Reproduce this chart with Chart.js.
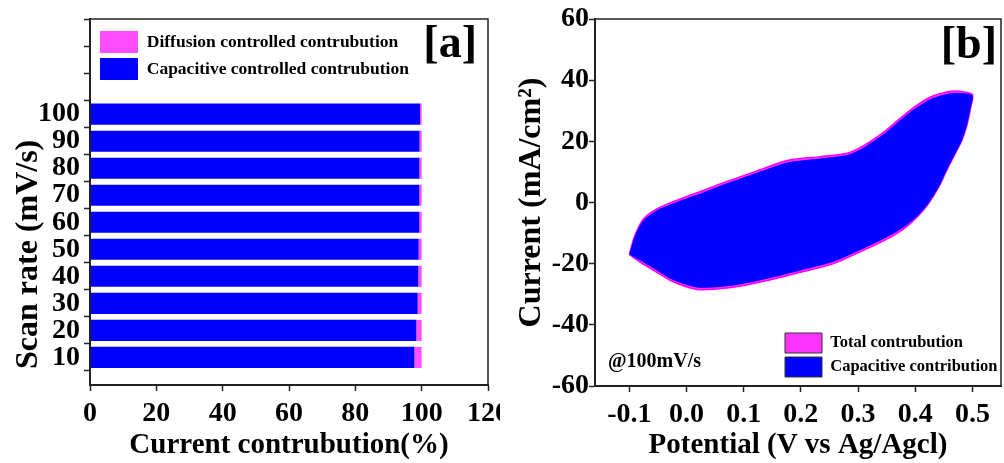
<!DOCTYPE html>
<html>
<head>
<meta charset="utf-8">
<script src="https://cdn.jsdelivr.net/npm/chart.js@4/dist/chart.umd.min.js"></script>
<style>
  html, body { margin: 0; padding: 0; background: #fff; }
  #wrap { position: relative; width: 1004px; height: 463px; }
  #chartA { position: absolute; left: 0; top: 0; }
  #chartB { position: absolute; left: 500px; top: 0; }
</style>
</head>
<body>
<div id="wrap">
  <canvas id="chartA" width="500" height="463"></canvas>
  <canvas id="chartB" width="504" height="463"></canvas>
</div>
<script>
// panel [a] - contribution per scan rate
const scanRates = [10, 20, 30, 40, 50, 60, 70, 80, 90, 100];
const capacitivePct = [97.8, 98.4, 98.8, 99.0, 99.1, 99.3, 99.3, 99.3, 99.35, 99.5];
const diffusionPct = [2.2, 1.6, 1.2, 1.0, 0.9, 0.7, 0.7, 0.7, 0.65, 0.5];
const rateTicks = [10, 20, 30, 40, 50, 60, 70, 80, 90, 100, 110, 120, 130];
const pctTicks = [0, 20, 40, 60, 80, 100, 120];

// panel [b] - CV loop at 100 mV/s (forward branch, then return branch)
const potential = [-0.1, -0.0925, -0.084, -0.075, -0.063, -0.046, -0.011, 0.029, 0.059, 0.117, 0.176, 0.234, 0.281, 0.31, 0.345, 0.368, 0.397, 0.426, 0.455, 0.476, 0.5,
                   0.497, 0.49, 0.481, 0.47, 0.455, 0.441, 0.423, 0.403, 0.38, 0.351, 0.316, 0.257, 0.199, 0.141, 0.082, 0.024, 0.001, -0.028, -0.0575, -0.081, -0.1];
const totalCurrent = [-17.0, -11.9, -8.1, -5.3, -3.4, -1.5, 1.2, 3.9, 6.1, 9.9, 13.7, 15.0, 16.1, 18.6, 23.0, 26.6, 31.0, 34.4, 36.1, 36.4, 35.3,
                      31.0, 25.0, 20.0, 16.0, 10.5, 5.0, -0.4, -4.8, -8.6, -11.9, -15.1, -20.0, -22.8, -25.5, -27.7, -28.5, -27.6, -25.5, -22.2, -19.5, -17.0];
const capCurrent = [-17.0, -12.1, -8.4, -5.7, -3.9, -2.0, 0.6, 3.3, 5.5, 9.3, 13.1, 14.4, 15.5, 18.0, 22.4, 26.0, 30.4, 33.8, 35.5, 35.8, 35.0,
                    31.0, 25.0, 20.0, 16.0, 10.5, 5.0, -0.3, -4.6, -8.1, -11.3, -14.5, -19.4, -22.2, -24.9, -27.1, -27.9, -27.0, -24.9, -21.6, -19.0, -17.0];
const potentialTicks = [-0.1, 0.0, 0.1, 0.2, 0.3, 0.4, 0.5];
const currentTicks = [-60, -40, -20, 0, 20, 40, 60];

const serif = "'Liberation Serif', 'Times New Roman', serif";
Chart.defaults.font.family = serif;
Chart.defaults.font.weight = 'bold';
Chart.defaults.color = '#000';

// box around the plot area
const frame = {
  id: 'frame',
  afterDatasetsDraw(chart) {
    const { ctx, chartArea: a } = chart;
    ctx.save();
    ctx.strokeStyle = '#222';
    ctx.lineWidth = 1.5;
    ctx.strokeRect(a.left, a.top, a.right - a.left, a.bottom - a.top);
    ctx.restore();
  }
};

// move the in-plot legend to a spot inside the chart area
const legendSpot = {
  id: 'legendSpot',
  afterLayout(chart, args, opts) {
    const lg = chart.legend;
    if (!lg) return;
    const pad = lg.options.labels.padding;
    const a = chart.chartArea;
    lg.left = a.left + opts.dx - pad;
    lg.right = a.right;
    lg.top = a.top + opts.dy - pad;
    lg.bottom = a.bottom + 40;
  }
};

// panel letters and notes
const panelText = {
  id: 'panelText',
  afterDraw(chart, args, opts) {
    const { ctx, chartArea: a } = chart;
    ctx.save();
    ctx.fillStyle = '#000';
    ctx.textBaseline = 'middle';
    for (const t of opts.items || []) {
      ctx.font = t.font;
      ctx.textAlign = t.align;
      ctx.fillText(t.text, t.fromRight ? a.right - t.dx : a.left + t.dx, a.top + t.dy);
    }
    ctx.restore();
  }
};

function axisStyle() {
  return {
    grid: { drawOnChartArea: false, drawTicks: true, tickLength: 6, tickWidth: 1.5, tickColor: '#222' },
    border: { display: true, color: '#222', width: 2 }
  };
}

new Chart(document.getElementById('chartA').getContext('2d'), {
  type: 'bar',
  data: {
    datasets: [
      {
        label: 'Capacitive controlled contrubution',
        data: scanRates.map((r, i) => ({ x: capacitivePct[i], y: r })),
        backgroundColor: '#0000FF',
        borderWidth: 0
      },
      {
        label: 'Diffusion controlled contrubution',
        data: scanRates.map((r, i) => ({ x: diffusionPct[i], y: r })),
        backgroundColor: '#FF4DFF',
        borderWidth: 0
      }
    ]
  },
  options: {
    indexAxis: 'y',
    responsive: false,
    animation: false,
    devicePixelRatio: 1,
    events: [],
    barPercentage: 0.78,
    categoryPercentage: 1,
    layout: { padding: { left: 0, top: 19, right: 12, bottom: 0 } },
    scales: {
      x: {
        type: 'linear',
        stacked: true,
        min: 0,
        max: 120,
        ...axisStyle(),
        afterBuildTicks: (s) => { s.ticks = pctTicks.map(v => ({ value: v })); },
        afterFit: (s) => { s.height = 78; s.paddingLeft = 0; s.paddingRight = 0; },
        ticks: { font: { size: 28, weight: 'bold' }, padding: 6, maxRotation: 0, autoSkip: false },
        title: { display: true, text: 'Current contrubution(%)', font: { size: 29, weight: 'bold' }, padding: { top: 0, bottom: 0 } }
      },
      y: {
        type: 'linear',
        stacked: true,
        min: 5,
        max: 130,
        ...axisStyle(),
        afterBuildTicks: (s) => { s.ticks = rateTicks.map(v => ({ value: v })); },
        afterFit: (s) => { s.width = 90; s.paddingTop = 0; s.paddingBottom = 0; },
        ticks: { font: { size: 28, weight: 'bold' }, padding: 4, autoSkip: false, callback: (v) => v <= 100 ? v : '' },
        title: { display: true, align: 'start', text: '\u2002Scan rate (mV/s)', font: { size: 32, weight: 'bold' }, padding: { top: 10, bottom: 0 } }
      }
    },
    plugins: {
      tooltip: { enabled: false },
      legend: {
        position: 'chartArea',
        align: 'start',
        reverse: true,
        labels: { boxWidth: 38, boxHeight: 22, padding: 5, color: '#000', font: { size: 17.5, weight: 'bold' } }
      },
      legendSpot: { dx: 10, dy: 12 },
      panelText: { items: [ { text: '[a]', font: 'bold 46px ' + serif, align: 'right', fromRight: true, dx: 11, dy: 26 } ] }
    }
  },
  plugins: [frame, legendSpot, panelText]
});

new Chart(document.getElementById('chartB').getContext('2d'), {
  type: 'scatter',
  data: {
    datasets: [
      {
        label: 'Total contrubution',
        data: potential.map((v, i) => ({ x: v, y: totalCurrent[i] })),
        showLine: true,
        fill: 'shape',
        backgroundColor: '#FF33FF',
        borderColor: '#FF00FF',
        borderWidth: 1.5,
        pointRadius: 0,
        tension: 0.25,
        order: 1
      },
      {
        label: 'Capacitive contribution',
        data: potential.map((v, i) => ({ x: v, y: capCurrent[i] })),
        showLine: true,
        fill: 'shape',
        backgroundColor: '#0000FF',
        borderColor: '#0000FF',
        borderWidth: 0,
        pointRadius: 0,
        tension: 0.25,
        order: 0
      }
    ]
  },
  options: {
    responsive: false,
    animation: false,
    devicePixelRatio: 1,
    events: [],
    layout: { padding: { left: 0, top: 19, right: 3, bottom: 0 } },
    scales: {
      x: {
        type: 'linear',
        min: -0.16,
        max: 0.55,
        ...axisStyle(),
        afterBuildTicks: (s) => { s.ticks = potentialTicks.map(v => ({ value: v })); },
        afterFit: (s) => { s.height = 77; s.paddingLeft = 0; s.paddingRight = 0; },
        ticks: { font: { size: 28, weight: 'bold' }, padding: 6, maxRotation: 0, autoSkip: false, callback: (v) => v.toFixed(1) },
        title: { display: true, text: 'Potential (V vs Ag/Agcl)', font: { size: 29, weight: 'bold' }, padding: { top: 0, bottom: 0 } }
      },
      y: {
        type: 'linear',
        min: -60,
        max: 60,
        ...axisStyle(),
        afterBuildTicks: (s) => { s.ticks = currentTicks.map(v => ({ value: v })); },
        afterFit: (s) => { s.width = 95; s.paddingTop = 0; s.paddingBottom = 0; },
        ticks: { font: { size: 28, weight: 'bold' }, padding: 0, autoSkip: false },
        title: { display: true, text: 'Current (mA/cm\u00B2)', font: { size: 32, weight: 'bold' }, padding: { top: 13, bottom: 0 } }
      }
    },
    plugins: {
      tooltip: { enabled: false },
      legend: {
        position: 'chartArea',
        align: 'start',
        labels: {
          boxWidth: 37, boxHeight: 20, padding: 4, color: '#000', font: { size: 16.5, weight: 'bold' },
          generateLabels: (chart) => Chart.defaults.plugins.legend.labels.generateLabels(chart)
            .sort((a, b) => a.datasetIndex - b.datasetIndex)
            .map(it => Object.assign(it, { strokeStyle: '#333', lineWidth: 1 }))
        }
      },
      legendSpot: { dx: 190, dy: 314 },
      panelText: {
        items: [
          { text: '[b]', font: 'bold 46px ' + serif, align: 'right', fromRight: true, dx: 4, dy: 27 },
          { text: '@100mV/s', font: 'bold 20px ' + serif, align: 'left', fromRight: false, dx: 13, dy: 343 }
        ]
      }
    }
  },
  plugins: [frame, legendSpot, panelText]
});
</script>
</body>
</html>
